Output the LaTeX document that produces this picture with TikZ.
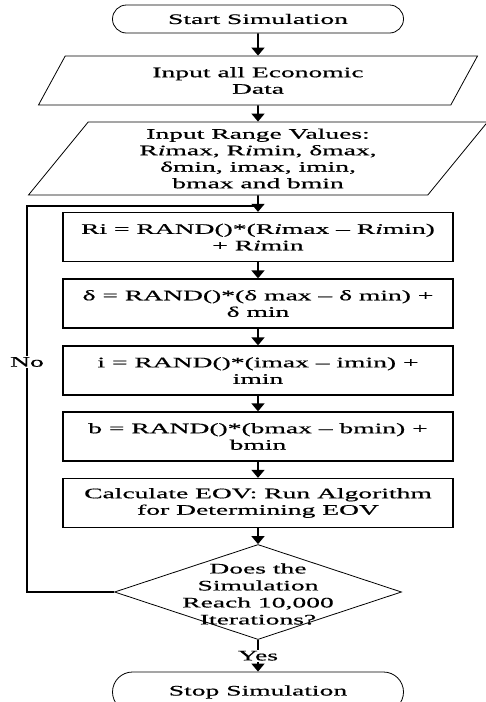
\documentclass[tikz,border=0pt]{standalone}
\usepackage{fontspec}
\setmainfont{Liberation Serif}[FakeStretch=1.9, FakeBold=0.5]
\usetikzlibrary{shapes.geometric, arrows.meta}

\begin{document}
\begin{tikzpicture}[x=1pt, y=-1pt, >={Triangle[width=13pt,length=8pt]},
  font=\fontsize{14.5}{16.5}\selectfont,
  term/.style={draw, line width=.8pt, rounded corners=14pt, minimum width=291pt, minimum height=28pt, inner sep=0pt},
  io/.style={draw, line width=.8pt, trapezium, trapezium left angle=45, trapezium right angle=135, trapezium stretches body, align=center, inner sep=0pt},
  proc/.style={draw, line width=1.3pt, minimum width=390pt, minimum height=49pt, align=center, inner sep=0pt},
  dec/.style={draw, line width=.8pt, diamond, minimum width=287pt, minimum height=95pt, inner sep=0pt},
  lbl/.style={fill=white, inner sep=1pt},
  flow/.style={->, line width=1.6pt}]
\useasboundingbox (0,0) rectangle (486,702);
\clip (0,0) rectangle (486,702);
\node[term] (start) at (258,19) {Start Simulation};
\node[io, minimum width=439pt, minimum height=49pt] (in1) at (258,80.5) {Input all Economic\\Data};
\node[io, minimum width=459pt, minimum height=73pt] (in2) at (258,158.5) {Input Range Values:\\R\textit{i}max, R\textit{i}min, δmax,\\δmin, imax, imin,\\bmax and bmin};
\node[proc] (ri) at (258,237) {Ri = RAND()*(R\textit{i}max – R\textit{i}min)\\+ R\textit{i}min};
\node[proc] (dl) at (258,303.5) {δ = RAND()*(δ max – δ min) +\\δ min};
\node[proc] (ii) at (258,370.5) {i = RAND()*(imax – imin) +\\imin};
\node[proc] (bb) at (258,436.5) {b = RAND()*(bmax – bmin) +\\bmin};
\node[proc] (eov) at (258,503) {Calculate EOV: Run Algorithm\\for Determining EOV};
\node[dec] (chk) at (258,592) {};
\node[align=center, font=\fontsize{14.5}{17}\selectfont] (chktxt) at (258,594) {Does the\\Simulation\\Reach 10,000\\Iterations?};
\node[term, minimum height=40pt, rounded corners=20pt] (stop) at (258,692) {Stop Simulation};
\coordinate (ret) at (258,206);
\coordinate (lt) at (27,206);
\foreach \a/\b in {start/in1, in1/in2, in2/ri, ri/dl, dl/ii, ii/bb, bb/eov, eov/chk}
  \draw[flow] (\a) -- (\b);
\draw[line width=1.6pt] (chk.west) -| (lt) -- (ret);
\node[lbl] (no) at (27,362) {No};
\draw[flow] (chk) -- node[lbl] (yes) {Yes} (stop);
\end{tikzpicture}
\end{document}
